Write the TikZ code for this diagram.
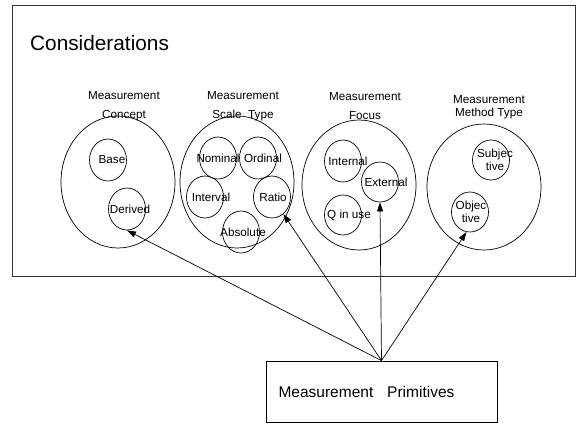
\documentclass[tikz,border=0pt]{standalone}
\usepackage{fontspec}
\setmainfont{Liberation Sans}
\usetikzlibrary{positioning, arrows.meta, shapes.geometric}

\begin{document}
\begin{tikzpicture}[
  x=1pt, y=-1pt,
  every node/.style={font=\fontsize{11.7}{13}\selectfont},
  group/.style={
    draw, ellipse, line width=0.7pt,
    minimum width=114pt, minimum height=132pt, inner sep=0pt
  },
  item/.style={
    draw, ellipse, line width=0.7pt,
    minimum width=37pt, minimum height=42pt, inner sep=0pt
  },
  heading/.style={align=center, inner sep=0pt, font=\fontsize{11.7}{19}\selectfont},
  arrow/.style={-{Triangle[length=9pt,width=6pt]}, line width=0.7pt},
]
\useasboundingbox (0,0) rectangle (576,424);

% Considerations frame
\draw[line width=0.8pt, draw=black!80] (12,5) rectangle (575.5,276);
\node[anchor=west, inner sep=0pt, font=\fontsize{20.8}{24}\selectfont] (title) at (30,43) {Considerations};

% Measurement Concept
\node[heading] (hconcept) at (124,106) {Measurement\\Concept};
\node[group] (concept) at (118,182) {};
\node[item, label={[xshift=4pt]center:Base}] (base) at (108,160) {};
\node[item, label={[xshift=3pt]center:Derived}] (derived) at (127,209) {};

% Measurement Scale Type
\node[heading] (hscale) at (243,106) {Measurement\\Scale\ \ Type};
\node[group] (scale) at (237,182) {};
\node[item, label={center:Nominal}] (nominal) at (218,158) {};
\node[item, label={[xshift=5pt]center:Ordinal}] (ordinal) at (258,158) {};
\node[item, label={[xshift=6pt]center:Interval}] (interval) at (205,197) {};
\node[item, label={[xshift=1pt]center:Ratio}] (ratio) at (272,197) {};
\node[item, label={[xshift=2pt]center:Absolute}] (absolute) at (241,232) {};

% Measurement Focus
\node[heading] (hfocus) at (365,106) {Measurement\\Focus};
\node[group, minimum height=130pt] (focus) at (359,185) {};
\node[item, label={[xshift=5pt]center:Internal}] (internal) at (343,161) {};
\node[item, minimum height=40pt, label={[xshift=6pt]center:External}] (external) at (380,182) {};
\node[item, minimum height=40pt, label={[xshift=6pt]center:Q in use}] (qinuse) at (343,215) {};

% Measurement Method Type
\node[heading, font=\fontsize{11.7}{13.5}\selectfont] (hmethod) at (489,107) {Measurement\\Method Type};
\node[group, minimum height=126pt] (method) at (484,187) {};
\node[item, minimum height=40pt, label={[xshift=4pt, align=center]center:Subjec\\tive}] (subjective) at (491,160) {};
\node[item, minimum height=40pt, label={[xshift=1pt, align=center]center:Objec\\tive}] (objective) at (470,212) {};

% Primitives box
\node[draw, line width=0.8pt, minimum width=231pt, minimum height=61pt,
  label={[xshift=-15pt, font=\fontsize{15.5}{18}\selectfont]center:Measurement\hspace{0.9em}Primitives}]
  (prim) at (381.5,391.5) {};

% Arrows
\draw[arrow] (prim.north) -- (derived.south);
\draw[arrow] (prim.north) -- (ratio);
\draw[arrow] (prim.north) -- (external.south);
\draw[arrow] (prim.north) -- (objective.260);

\end{tikzpicture}
\end{document}
